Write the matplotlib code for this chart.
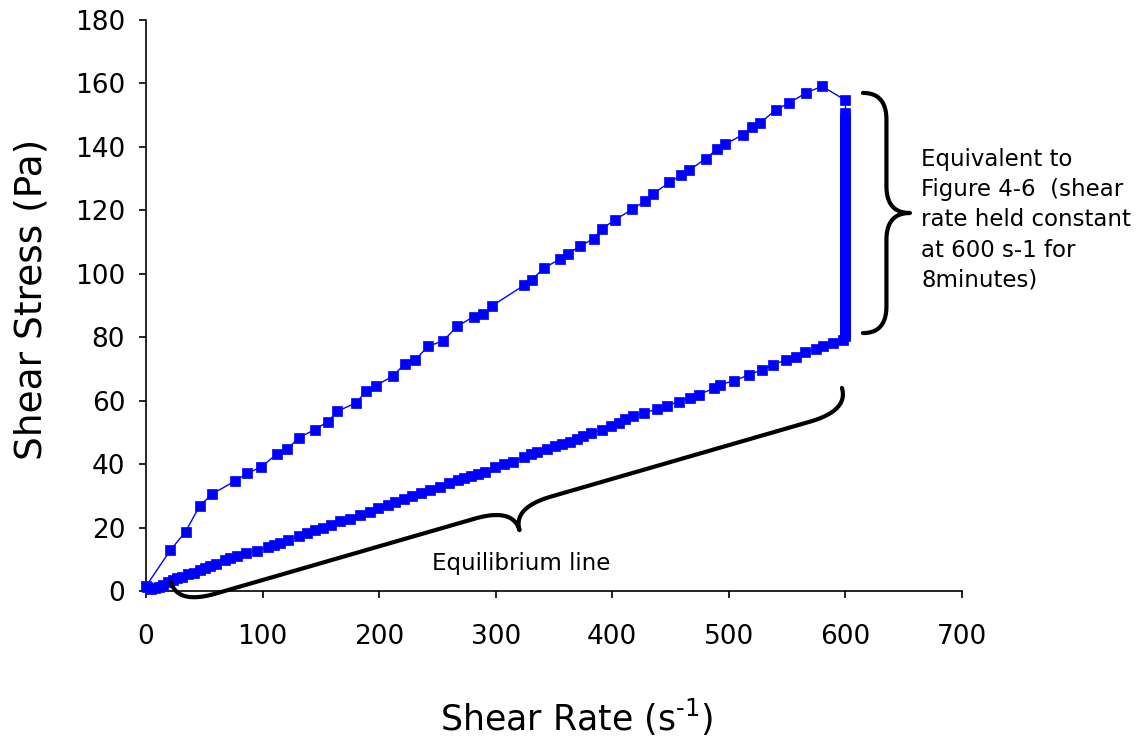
import numpy as np
import matplotlib.pyplot as plt

# Ramp up from rest to 600 s-1
up_rate = [0, 21, 34, 46, 57, 76, 87, 99, 112, 121, 131, 145, 156, 164, 180,
           189, 197, 212, 222, 231, 242, 255, 267, 281, 289, 297, 324, 331, 341,
           355, 362, 372, 384, 391, 402, 417, 428, 435, 449, 459, 466, 480, 490,
           497, 512, 520, 527, 540, 552, 566, 580, 600]
up_stress = [1.5, 12.9, 18.7, 26.8, 30.6, 34.6, 37.1, 39.1, 43.1, 44.6, 48.3,
             50.9, 53.4, 56.6, 59.3, 62.9, 64.7, 67.8, 71.6, 72.9, 77.1, 78.9,
             83.4, 86.5, 87.2, 89.9, 96.3, 98.1, 101.7, 104.6, 106.3, 108.6,
             111.1, 114.2, 116.9, 120.3, 122.9, 125.2, 128.8, 131.1, 132.6,
             136.3, 139.3, 140.9, 143.8, 146.2, 147.6, 151.6, 153.9, 157.0,
             159.1, 154.7]

# Held at 600 s-1 for 8 minutes
hold_stress = [150.7, 149.0, 147.9, 146.3, 145.1, 143.6, 142.4, 141.2, 139.7,
               138.6, 137.3, 136.2, 134.9, 133.7, 132.6, 131.2, 130.1, 128.9,
               127.6, 126.5, 125.3, 124.0, 122.9, 121.7, 120.4, 119.3, 118.1,
               116.8, 115.7, 114.5, 113.2, 112.1, 110.9, 109.6, 108.5, 107.3,
               106.0, 104.9, 103.7, 102.4, 101.3, 100.1, 98.9, 97.8, 96.6, 95.4,
               94.3, 93.1, 92.0, 90.9, 89.8, 88.7, 87.6, 86.6, 85.6, 84.7, 83.8,
               83.0, 82.2, 81.5, 80.9, 80.3]
hold_rate = [600] * len(hold_stress)

# Ramp down back to rest (equilibrium line)
down_rate = [598, 589, 581, 575, 565, 558, 549, 538, 528, 517, 504, 492, 487,
             474, 467, 457, 447, 438, 427, 418, 411, 406, 399, 391, 382, 375,
             370, 364, 357, 351, 344, 335, 330, 324, 315, 307, 299, 291, 285,
             279, 273, 268, 260, 252, 244, 236, 228, 221, 214, 208, 199, 192,
             184, 175, 166, 159, 152, 145, 138, 131, 122, 115, 110, 105, 95,
             86, 78, 72, 68, 60, 55, 51, 46, 41, 36, 31, 27, 23, 19, 15, 11,
             8, 4, 1]
down_stress = [79.2, 78.2, 77.1, 76.3, 75.2, 73.9, 72.9, 71.3, 69.7, 68.1,
               66.2, 65.0, 63.9, 61.8, 60.8, 59.7, 58.4, 57.3, 56.1, 55.0, 54.3,
               53.1, 52.0, 50.8, 49.8, 48.7, 48.0, 47.1, 46.4, 45.7, 44.7, 43.9,
               43.1, 42.2, 40.8, 40.1, 39.2, 37.6, 36.9, 36.1, 35.5, 35.0, 33.9,
               32.9, 31.9, 30.8, 30.0, 29.1, 28.0, 27.1, 26.1, 25.0, 24.0, 22.6,
               21.9, 20.8, 20.0, 19.2, 18.2, 17.4, 16.1, 15.2, 14.6, 14.0, 12.6,
               11.9, 11.0, 10.4, 9.8, 8.5, 7.9, 7.2, 6.5, 5.8, 5.2, 4.5, 4.0,
               3.5, 2.7, 1.9, 1.3, 0.9, 0.6, 1.4]

rate = up_rate + hold_rate + down_rate
stress = up_stress + hold_stress + down_stress

plt.rcParams['font.family'] = ['DejaVu Sans']

fig = plt.figure(figsize=(11.45, 7.4), dpi=100)
ax = fig.add_axes([0.1275, 0.2014, 0.7127, 0.7716])

ax.plot(rate, stress, color='#0000FF', lw=1, marker='s', markersize=7.2,
        markeredgewidth=0.5, clip_on=False, zorder=3)

ax.set_xlim(0, 700)
ax.set_ylim(0, 180)
ax.set_xticks(np.arange(0, 701, 100))
ax.set_yticks(np.arange(0, 181, 20))
for side in ['top', 'right']:
    ax.spines[side].set_visible(False)
for side in ['left', 'bottom']:
    ax.spines[side].set_linewidth(1.2)
ax.tick_params(axis='both', direction='out', length=5, width=1.2, labelsize=19)
ax.tick_params(axis='x', pad=19)
ax.tick_params(axis='y', pad=10)

ax.set_xlabel(r'Shear Rate (s$^{\text{-1}}$)', fontsize=25, va='center')
ax.xaxis.set_label_coords(0.528, -0.222)
ax.set_ylabel('Shear Stress (Pa)', fontsize=27, va='center')
ax.yaxis.set_label_coords(-0.14, 0.51)


def brace(p0, p1, depth, r, lw=3):
    # curly bracket between two data points, depth and radius in pixels
    a = ax.transData.transform(p0)
    b = ax.transData.transform(p1)
    L = np.hypot(*(b - a))
    u = (b - a) / L
    n = np.array([u[1], -u[0]])
    h = depth / 2

    def quad(q0, q1, q2, m=30):
        t = np.linspace(0, 1, m)[:, None]
        return (1 - t) ** 2 * np.array(q0) + 2 * (1 - t) * t * np.array(q1) + t ** 2 * np.array(q2)

    pts = np.vstack([
        quad((0, 0), (0, h), (r, h)),
        quad((L / 2 - r, h), (L / 2, h), (L / 2, depth)),
        quad((L / 2, depth), (L / 2, h), (L / 2 + r, h)),
        quad((L - r, h), (L, h), (L, 0)),
    ])
    disp = a + pts[:, :1] * u + pts[:, 1:] * n
    xy = ax.transData.inverted().transform(disp)
    ax.plot(xy[:, 0], xy[:, 1], color='black', lw=lw, clip_on=False,
            solid_capstyle='round', zorder=4)


brace((615, 81.3), (615, 157.0), 47, 27)
brace((21.4, 2.8), (597, 64.0), 47, 40)

ax.text(665, 117, 'Equivalent to\nFigure 4-6  (shear\nrate held constant\nat 600 s-1 for\n8minutes)',
        fontsize=16.5, ha='left', va='center', linespacing=1.4)
ax.text(322, 8.8, 'Equilibrium line', fontsize=16.5, ha='center', va='center')

fig.savefig('out.png', dpi=100)
